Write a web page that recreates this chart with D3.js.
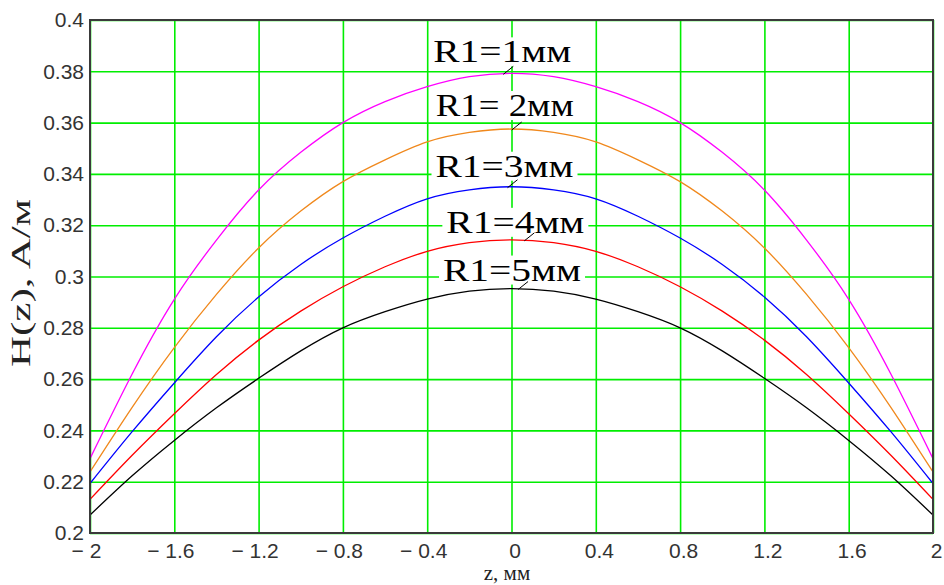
<!DOCTYPE html>
<html>
<head>
<meta charset="utf-8">
<title>H(z)</title>
<style>
  body { margin: 0; background: #fff; }
  svg { display: block; }
</style>
</head>
<body>
<svg width="944" height="585"></svg>
<script src="https://d3js.org/d3.v7.min.js"></script>
<script>

// z positions, mm
var zValues = [-2, -1.8, -1.6, -1.4, -1.2, -1.0, -0.8, -0.6, -0.4, -0.2, 0,
               0.2, 0.4, 0.6, 0.8, 1.0, 1.2, 1.4, 1.6, 1.8, 2];

// H(z) for each R1
var h1 = [0.229, 0.262, 0.2911, 0.3142, 0.3337, 0.3484, 0.36, 0.3682, 0.374, 0.3779, 0.3792,
          0.3779, 0.374, 0.3682, 0.36, 0.3484, 0.3337, 0.3142, 0.2911, 0.262, 0.229];
var h2 = [0.2238, 0.249, 0.2723, 0.293, 0.3111, 0.3255, 0.337, 0.3455, 0.3525, 0.3562, 0.3575,
          0.3562, 0.3525, 0.3455, 0.337, 0.3255, 0.3111, 0.293, 0.2723, 0.249, 0.2238];
var h3 = [0.2193, 0.2395, 0.2585, 0.2765, 0.292, 0.3047, 0.315, 0.3235, 0.3303, 0.3338, 0.335,
          0.3338, 0.3303, 0.3235, 0.315, 0.3047, 0.292, 0.2765, 0.2585, 0.2395, 0.2193];
var h4 = [0.2131, 0.2303, 0.2465, 0.2618, 0.2752, 0.2865, 0.296, 0.3038, 0.3098, 0.3132, 0.3143,
          0.3132, 0.3098, 0.3038, 0.296, 0.2865, 0.2752, 0.2618, 0.2465, 0.2303, 0.2131];
var h5 = [0.207, 0.2223, 0.2361, 0.2488, 0.2603, 0.271, 0.28, 0.2863, 0.2912, 0.2943, 0.2953,
          0.2943, 0.2912, 0.2863, 0.28, 0.271, 0.2603, 0.2488, 0.2361, 0.2223, 0.207];

var seriesNames = ["R1=1мм", "R1= 2мм", "R1=3мм", "R1=4мм", "R1=5мм"];
var seriesColors = ["#ff00ff", "#f0881c", "#0000ff", "#ff0000", "#000000"];
// z where each label's pointer touches its curve
var labelZ = [-0.02, 0.02, 0.0, 0.08, 0.05];

var xTicks = [-2, -1.6, -1.2, -0.8, -0.4, 0, 0.4, 0.8, 1.2, 1.6, 2];
var yTicks = [0.2, 0.22, 0.24, 0.26, 0.28, 0.3, 0.32, 0.34, 0.36, 0.38, 0.4];

var allSeries = [h1, h2, h3, h4, h5];

var margin = {left: 90, top: 20, right: 11, bottom: 52};
var W = 944, H = 585;
var w = W - margin.left - margin.right;
var h = H - margin.top - margin.bottom;

var svg = d3.select("svg");
var g = svg.append("g").attr("transform", "translate(" + margin.left + "," + margin.top + ")");

var x = d3.scaleLinear().domain([-2, 2]).range([0, w]);
var y = d3.scaleLinear().domain([0.2, 0.4]).range([h, 0]);

// green grid
g.append("g")
  .attr("class", "grid")
  .attr("transform", "translate(0," + h + ")")
  .call(d3.axisBottom(x).tickValues(xTicks).tickSize(-h).tickFormat(""))
  .call(function(s){ s.select(".domain").remove(); });
g.append("g")
  .attr("class", "grid")
  .call(d3.axisLeft(y).tickValues(yTicks).tickSize(-w).tickFormat(""))
  .call(function(s){ s.select(".domain").remove(); });
g.selectAll(".grid line").attr("stroke", "#00ee00").attr("stroke-width", 1.6);

// curves
var line = d3.line()
  .x(function(d, i){ return x(zValues[i]); })
  .y(function(d){ return y(d); })
  .curve(d3.curveNatural);

g.selectAll(".curve")
  .data(allSeries)
  .enter()
  .append("path")
  .attr("class", "curve")
  .attr("d", line)
  .attr("fill", "none")
  .attr("stroke", function(d, i){ return seriesColors[i]; })
  .attr("stroke-width", 1.3);

// labels with white boxes and small pointer lines
var labelDx = [-5, -11, -7, -13, -10];
var labelDy = [-11, -13, -10, -7, -8];
var idx0 = zValues.indexOf(0);
seriesNames.forEach(function(name, i) {
  var px = x(labelZ[i]);
  var py = y(allSeries[i][idx0]);
  var lg = g.append("g");
  var t = lg.append("text")
    .attr("x", px + labelDx[i])
    .attr("y", py + labelDy[i])
    .attr("text-anchor", "middle")
    .attr("font-family", "'Liberation Serif', 'Times New Roman', serif")
    .attr("font-size", "31px")
    .attr("textLength", 138)
    .attr("lengthAdjust", "spacingAndGlyphs")
    .attr("fill", "#000")
    .text(name);
  var bb = t.node().getBBox();
  lg.insert("rect", "text")
    .attr("x", bb.x - 4).attr("y", bb.y + 3)
    .attr("width", bb.width + 8).attr("height", bb.height - 6)
    .attr("fill", "#fff");
  g.append("line")
    .attr("x1", px - 4).attr("y1", py + 1)
    .attr("x2", px + 6).attr("y2", py - 7)
    .attr("stroke", "#000").attr("stroke-width", 1);
});

// frame
g.append("rect")
  .attr("x", 0).attr("y", 0).attr("width", w).attr("height", h)
  .attr("fill", "none").attr("stroke", "#3a3a3a").attr("stroke-width", 2);

// tick labels
function fmtX(d) {
  if (d < 0) return "\u2212 " + Math.abs(d);
  return String(d);
}
var xAxis = g.append("g")
  .attr("transform", "translate(0," + h + ")")
  .call(d3.axisBottom(x).tickValues(xTicks).tickSize(0).tickPadding(10).tickFormat(fmtX));
xAxis.select(".domain").remove();
xAxis.selectAll("text").attr("dx", function(d){ return d < 0 ? "-4px" : "3px"; });

var yAxis = g.append("g")
  .call(d3.axisLeft(y).tickValues(yTicks).tickSize(0).tickPadding(6).tickFormat(function(d){ return String(+d.toFixed(2)); }));
yAxis.select(".domain").remove();

svg.selectAll(".tick text")
  .attr("font-family", "'Liberation Sans', Arial, sans-serif")
  .attr("font-size", "21px")
  .attr("fill", "#333");

// axis titles
svg.append("text")
  .attr("x", 507).attr("y", 580)
  .attr("text-anchor", "middle")
  .attr("font-family", "'Liberation Serif', 'Times New Roman', serif")
  .attr("font-size", "21px")
  .attr("fill", "#222")
  .text("z, мм");

svg.append("text")
  .attr("transform", "translate(30,283) rotate(-90)")
  .attr("text-anchor", "middle")
  .attr("font-family", "'Liberation Serif', 'Times New Roman', serif")
  .attr("font-size", "27px")
  .attr("textLength", 168)
  .attr("lengthAdjust", "spacingAndGlyphs")
  .attr("fill", "#222")
  .text("H(z), A/м");

</script>
</body>
</html>
